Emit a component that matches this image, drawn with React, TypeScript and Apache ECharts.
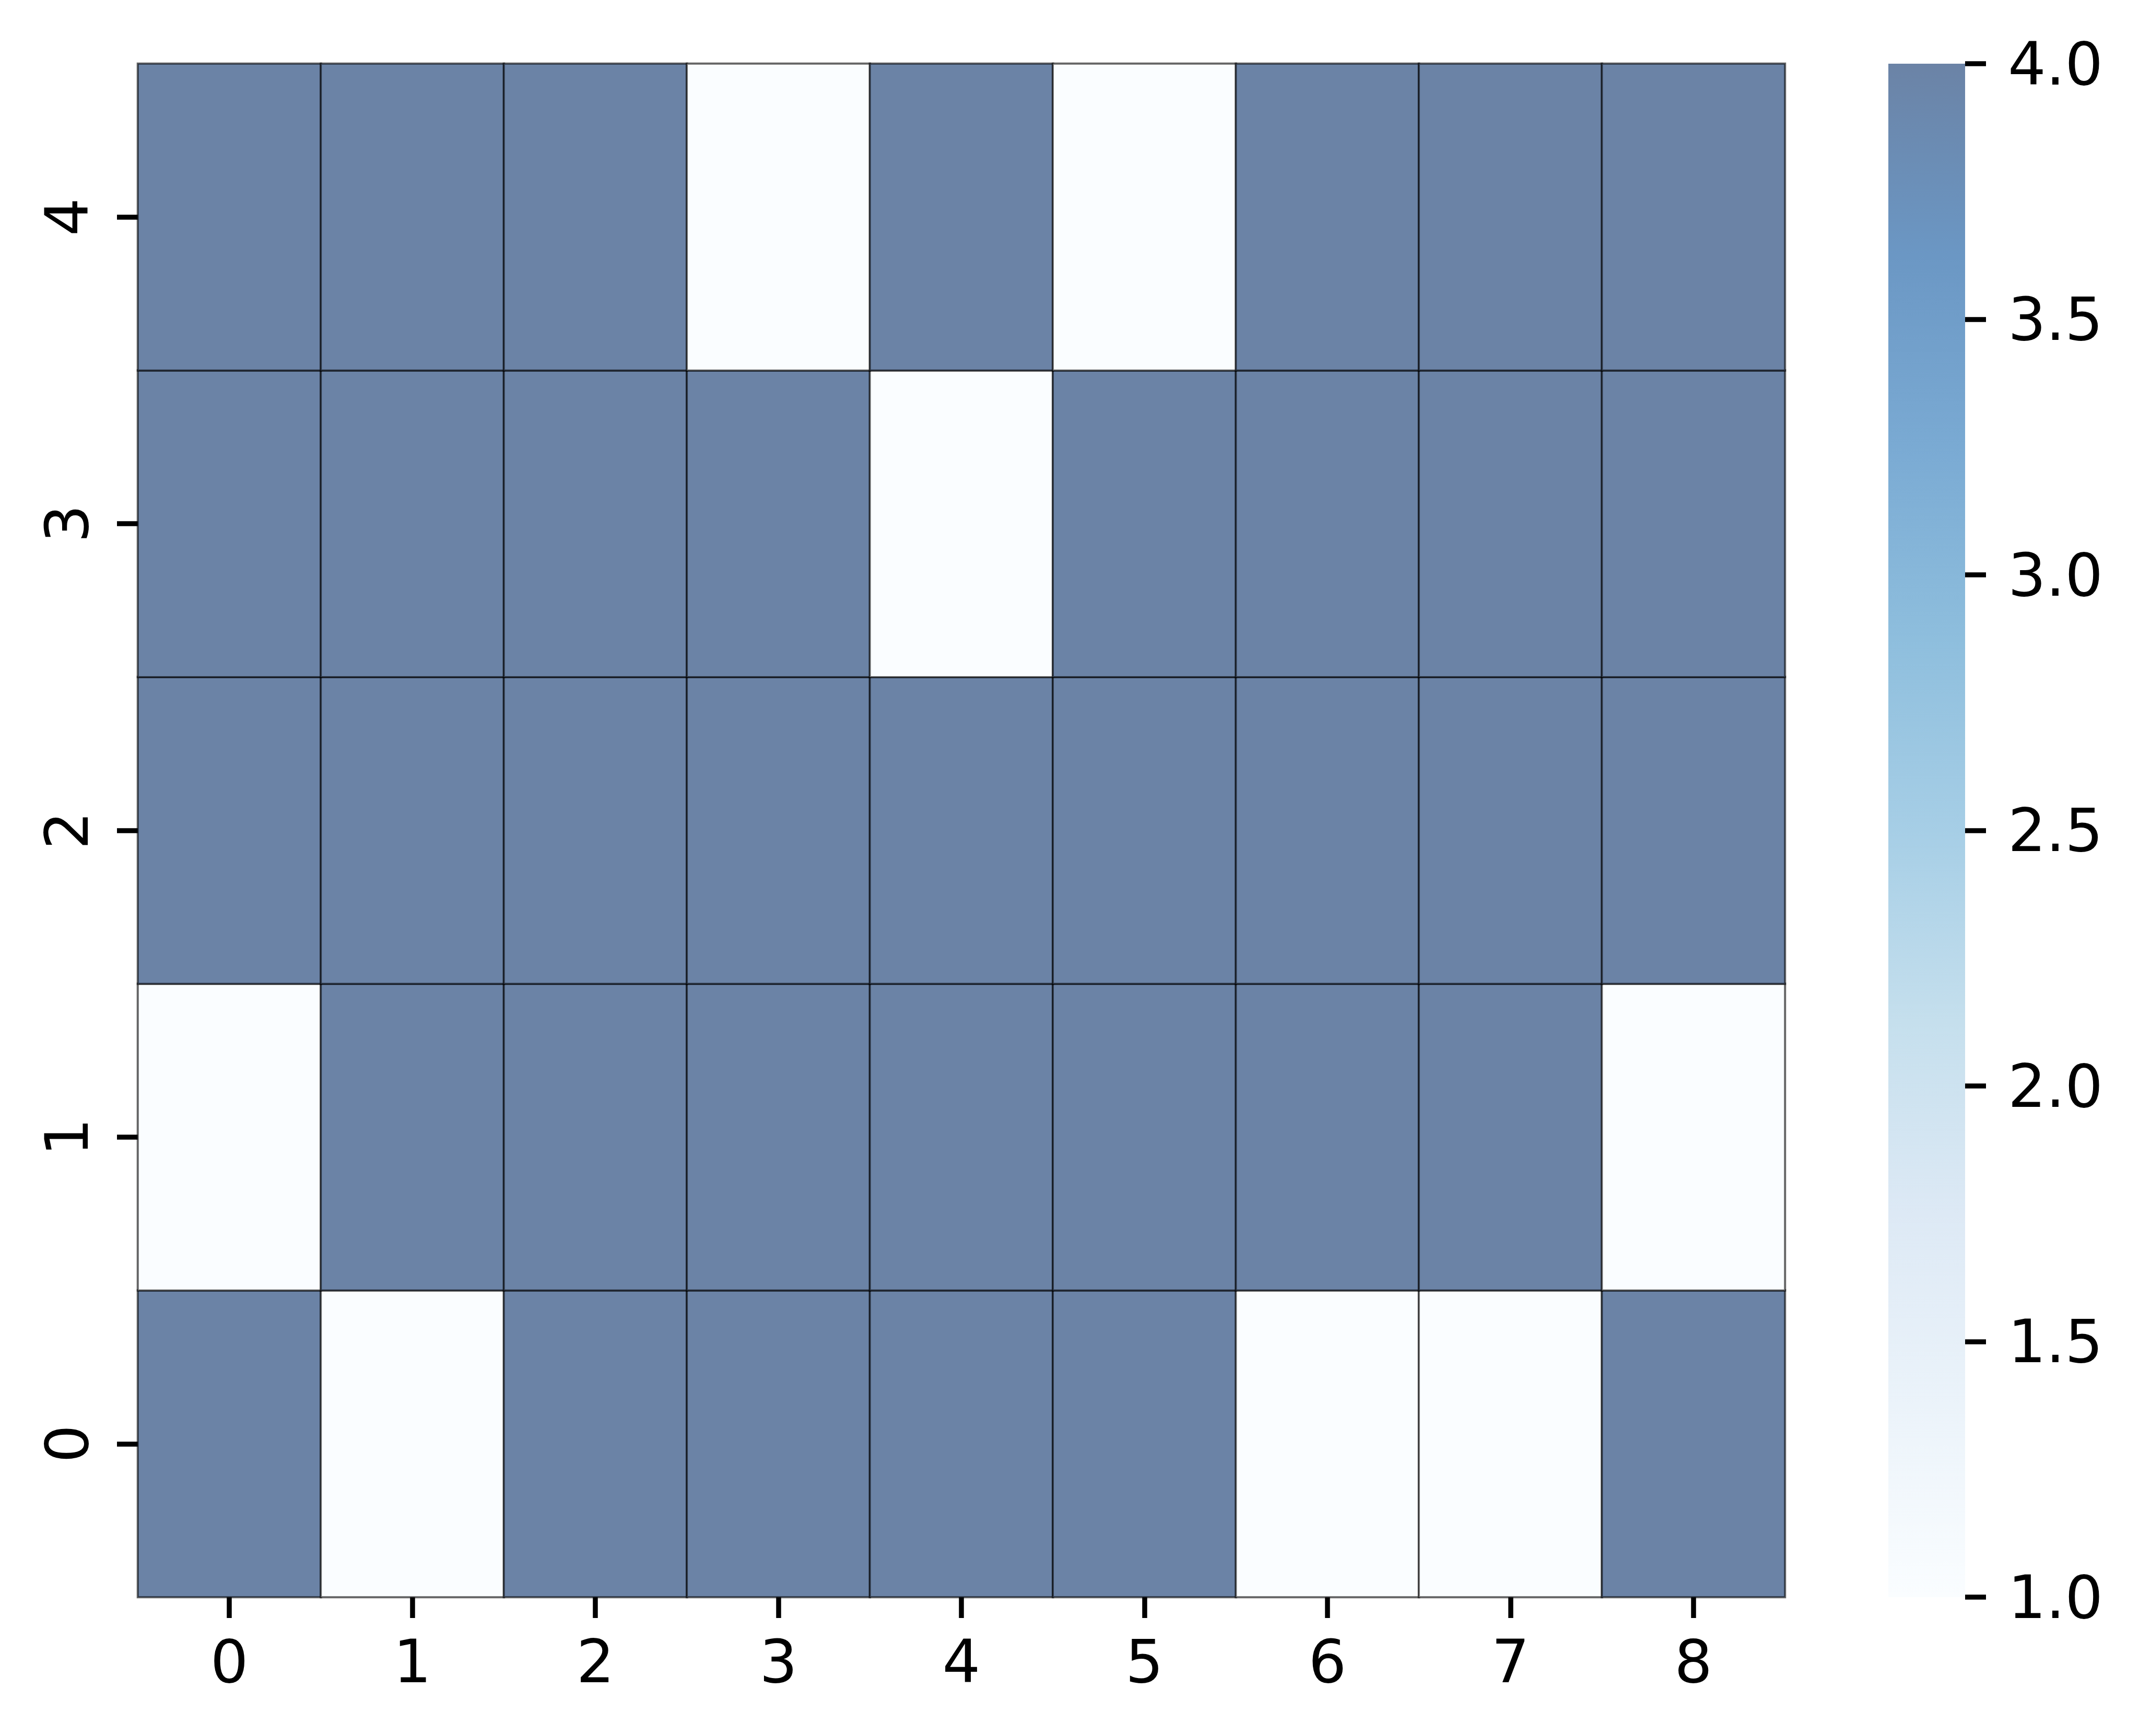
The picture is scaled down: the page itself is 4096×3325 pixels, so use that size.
import React, { useEffect, useRef } from "react";
import * as echarts from "echarts";

const xCategories = ["0", "1", "2", "3", "4", "5", "6", "7", "8"];
const yCategories = ["0", "1", "2", "3", "4"];
// rows listed bottom (y=0) to top (y=4)
const row0 = [4, 1, 4, 4, 4, 4, 1, 1, 4];
const row1 = [1, 4, 4, 4, 4, 4, 4, 4, 1];
const row2 = [4, 4, 4, 4, 4, 4, 4, 4, 4];
const row3 = [4, 4, 4, 4, 1, 4, 4, 4, 4];
const row4 = [4, 4, 4, 1, 4, 1, 4, 4, 4];
const rows = [row0, row1, row2, row3, row4];
const colorbarMin = 1;
const colorbarMax = 4;
const colorbarStep = 0.5;
// matplotlib "Blues" stops, blended with white at alpha 0.6
const bluesAlpha = [
  "rgb(250,253,255)",
  "rgb(235,243,250)",
  "rgb(221,233,245)",
  "rgb(197,223,237)",
  "rgb(166,206,230)",
  "rgb(142,190,221)",
  "rgb(122,170,211)",
  "rgb(107,151,196)",
  "rgb(107,131,166)",
];

const FONT = "DejaVu Sans";

export default function App() {
  const ref = useRef<HTMLDivElement>(null);
  useEffect(() => {
    if (!ref.current) return;
    const chart = echarts.init(ref.current, undefined, { renderer: "svg" });
    const data: number[][] = [];
    rows.forEach((r, y) => r.forEach((v, x) => data.push([x, y, v])));

    // top (offset 0) = max colour, bottom (offset 1) = min colour, ascending offsets
    const n = bluesAlpha.length;
    const gradStops = bluesAlpha
      .slice()
      .reverse()
      .map((c, i) => ({ offset: i / (n - 1), color: c }));

    const fontSize = 114.5;
    const tickStyle = { show: true, length: 40, lineStyle: { color: "#000", width: 9.5 } };

    chart.setOption({
      animation: false,
      backgroundColor: "#fff",
      grid: [
        { left: 264, top: 122, width: 3154, height: 2937, containLabel: false },
        { left: 3616, top: 122, width: 147, height: 2937, containLabel: false },
      ],
      xAxis: [
        {
          type: "category",
          gridIndex: 0,
          data: xCategories,
          position: "bottom",
          axisLine: { show: false },
          axisTick: { ...tickStyle, alignWithLabel: true },
          axisLabel: { fontFamily: FONT, fontSize, color: "#000", margin: 66 },
          splitLine: { show: false },
        },
        {
          type: "category",
          gridIndex: 1,
          data: ["cb"],
          show: false,
        },
      ],
      yAxis: [
        {
          type: "category",
          gridIndex: 0,
          data: yCategories,
          position: "left",
          axisLine: { show: false },
          axisTick: { ...tickStyle, alignWithLabel: true },
          axisLabel: { fontFamily: FONT, fontSize, color: "#000", margin: 78, rotate: 90 },
          splitLine: { show: false },
        },
        {
          type: "value",
          gridIndex: 1,
          position: "right",
          min: colorbarMin,
          max: colorbarMax,
          interval: colorbarStep,
          axisLine: { show: false },
          axisTick: { ...tickStyle },
          axisLabel: {
            fontFamily: FONT,
            fontSize,
            color: "#000",
            margin: 82,
            formatter: (v: number) => v.toFixed(1),
          },
          splitLine: { show: false },
        },
      ],
      visualMap: {
        show: false,
        type: "continuous",
        min: colorbarMin,
        max: colorbarMax,
        seriesIndex: 0,
        inRange: { color: bluesAlpha },
      },
      series: [
        {
          type: "heatmap",
          xAxisIndex: 0,
          yAxisIndex: 0,
          data,
          itemStyle: { borderColor: "rgba(0,0,0,0.6)", borderWidth: 4 },
          emphasis: { disabled: true },
        },
        {
          type: "custom",
          xAxisIndex: 1,
          yAxisIndex: 1,
          data: [[0, colorbarMin, colorbarMax]],
          renderItem: (params: any, api: any) => {
            const p0 = api.coord([0, api.value(1)]);
            const p1 = api.coord([0, api.value(2)]);
            const w = api.size([1, 0])[0];
            return {
              type: "rect",
              shape: { x: p0[0] - w / 2, y: p1[1], width: w, height: p0[1] - p1[1] },
              style: {
                fill: new echarts.graphic.LinearGradient(0, 0, 0, 1, gradStops),
              },
            };
          },
        },
      ],
    });
    return () => chart.dispose();
  }, []);
  return (
    <div
      ref={ref}
      style={{ position: "fixed", left: 0, top: 0, width: 4096, height: 3325, background: "#fff" }}
    />
  );
}
